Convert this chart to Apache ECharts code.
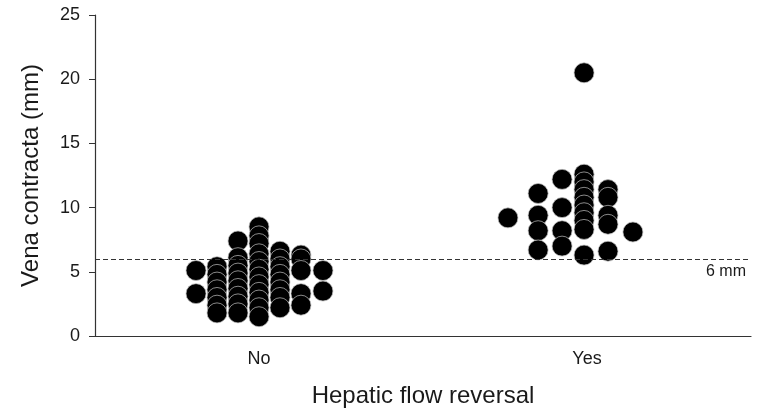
<!DOCTYPE html>
<html>
<head>
<meta charset="utf-8">
<script src="https://cdn.jsdelivr.net/npm/echarts@6/dist/echarts.min.js"></script>
<style>html,body{margin:0;padding:0;background:#fff;}#c{width:763px;height:413px;}</style>
</head>
<body>
<div id="c"></div>
<script>
const categories = ['No', 'Yes'];
const yTicks = [0, 5, 10, 15, 20, 25];
const threshold = 6;
const thresholdLabel = '6 mm';

// Beeswarm columns: horizontal offset (in category widths) and values (mm)
const noOffsets = [-0.192, -0.128, -0.064, 0, 0.064, 0.128, 0.195];
const noColumns = [
  [5.1, 3.3],
  [5.4, 4.8, 4.2, 3.6, 3.0, 2.4, 1.8],
  [7.4, 6.1, 5.5, 4.9, 4.3, 3.7, 3.1, 2.5, 1.8],
  [8.5, 7.8, 7.2, 6.4, 5.8, 5.2, 4.6, 4.0, 3.4, 2.8, 2.2, 1.5],
  [6.6, 6.0, 5.4, 4.8, 4.2, 3.6, 3.0, 2.2],
  [6.3, 6.0, 5.1, 3.3, 2.4],
  [5.1, 3.5]
];
const yesOffsets = [-0.241, -0.149, -0.076, -0.009, 0.064, 0.140];
const yesColumns = [
  [9.2],
  [11.1, 9.4, 8.2, 6.7],
  [12.2, 10.0, 8.2, 7.0],
  [20.5, 12.6, 12.0, 11.4, 10.8, 10.2, 9.6, 9.0, 8.3, 6.3],
  [11.4, 10.8, 9.4, 8.7, 6.6],
  [8.1]
];

function build(catIdx, offsets, cols) {
  const pts = [];
  cols.forEach((col, i) => col.forEach(v => pts.push([catIdx + 0.5 + offsets[i], v])));
  return pts;
}
const data = build(0, noOffsets, noColumns).concat(build(1, yesOffsets, yesColumns));

const chart = echarts.init(document.getElementById('c'));
const font = 'Liberation Sans, Arial, sans-serif';
const txt = '#1a1a1a';
chart.setOption({
  backgroundColor: '#fff',
  animation: false,
  grid: { left: 95, right: 12, top: 15, bottom: 75 },
  xAxis: [{
    type: 'category',
    data: categories,
    boundaryGap: true,
    axisLine: { lineStyle: { color: '#333', width: 1.2 } },
    axisTick: { alignWithLabel: true, length: 5, lineStyle: { color: '#333' } },
    axisLabel: { color: txt, fontSize: 18, fontFamily: font, margin: 14 },
    name: 'Hepatic flow reversal',
    nameLocation: 'middle',
    nameGap: 48,
    nameTextStyle: { color: txt, fontSize: 24, fontFamily: font }
  }, {
    type: 'value', min: 0, max: 2, show: false
  }],
  yAxis: {
    type: 'value', min: 0, max: 25, interval: 5,
    axisLine: { show: true, lineStyle: { color: '#333', width: 1.2 } },
    axisTick: { show: true, length: 6, lineStyle: { color: '#333' } },
    splitLine: { show: false },
    axisLabel: { color: txt, fontSize: 18, fontFamily: font, margin: 15,
      formatter: v => yTicks.includes(v) ? String(v) : '' },
    name: 'Vena contracta (mm)',
    nameLocation: 'middle',
    nameGap: 52,
    nameTextStyle: { color: txt, fontSize: 24, fontFamily: font }
  },
  series: [{
    type: 'scatter',
    xAxisIndex: 1,
    data: data,
    symbolSize: 20,
    itemStyle: { color: '#000', borderColor: 'rgba(190,190,190,0.9)', borderWidth: 0.8, opacity: 1 },
    markLine: {
      silent: true,
      symbol: 'none',
      lineStyle: { color: '#333', type: [5, 3], width: 1 },
      label: { show: true, position: 'insideEndBottom', formatter: thresholdLabel,
        color: txt, fontSize: 16, fontFamily: font, distance: [5, 5] },
      data: [{ yAxis: threshold }]
    }
  }]
});
</script>
</body>
</html>
